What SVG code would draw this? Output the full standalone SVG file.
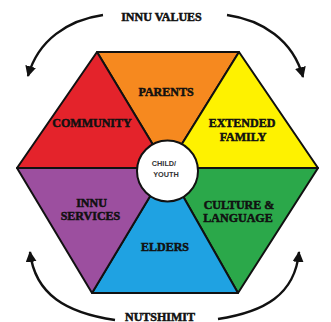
<svg xmlns="http://www.w3.org/2000/svg" width="331" height="322" viewBox="0 0 331 322">
  <style>
    .seg { stroke: #111; stroke-width: 2; stroke-linejoin: round; }
    .lbl { font-family: "Liberation Serif", "Times New Roman", serif; font-weight: bold; font-size: 12px; fill: #111; stroke: #111; stroke-width: 0.5; text-anchor: middle; }
    .hub { font-family: "Liberation Sans", Arial, sans-serif; font-weight: bold; font-size: 7.3px; fill: #333; text-anchor: middle; }
    .arc { fill: none; stroke: #111; stroke-width: 2.4; }
  </style>
  <defs>
    <marker id="head" viewBox="0 0 10 10" refX="9" refY="5" markerWidth="11" markerHeight="11" markerUnits="userSpaceOnUse" orient="auto">
      <path d="M0,0 L10,5 L0,10 Z" fill="#111"/>
    </marker>
  </defs>
  <rect width="331" height="322" fill="#ffffff"/>

  <!-- outer cycle arrows -->
  <g id="connectors">
    <path class="arc" d="M103,15 C68,20 38,40 28,76" marker-end="url(#head)"/>
    <path class="arc" d="M227,15 C262,20 293,40 303,77" marker-end="url(#head)"/>
    <path class="arc" d="M115,320 C67,313 35,295 30,252" marker-end="url(#head)"/>
    <path class="arc" d="M218,319 C264,312 295,295 299,252" marker-end="url(#head)"/>
  </g>

  <g id="innu-values">
    <text class="lbl" x="161.5" y="21">INNU VALUES</text>
  </g>
  <g id="nutshimit">
    <text class="lbl" x="160" y="320.5">NUTSHIMIT</text>
  </g>

  <!-- hexagon segments around the centre (167,168) -->
  <g id="parents">
    <polygon class="seg" points="97,52 239,52 167,168" fill="#f6891f"/>
    <text class="lbl" x="166" y="96">PARENTS</text>
  </g>
  <g id="extended-family">
    <polygon class="seg" points="239,52 318,168 167,168" fill="#fef200"/>
    <text class="lbl" x="242" y="127">EXTENDED</text>
    <text class="lbl" x="243" y="141">FAMILY</text>
  </g>
  <g id="culture-language">
    <polygon class="seg" points="318,168 238,293 167,168" fill="#2ba84a"/>
    <text class="lbl" x="239" y="209">CULTURE &amp;</text>
    <text class="lbl" x="238" y="222">LANGUAGE</text>
  </g>
  <g id="elders">
    <polygon class="seg" points="238,293 92,293 167,168" fill="#1fa2e2"/>
    <text class="lbl" x="165" y="251">ELDERS</text>
  </g>
  <g id="innu-services">
    <polygon class="seg" points="92,293 17,168 167,168" fill="#9c4f9f"/>
    <text class="lbl" x="91.5" y="207">INNU</text>
    <text class="lbl" x="90.5" y="220">SERVICES</text>
  </g>
  <g id="community">
    <polygon class="seg" points="17,168 97,52 167,168" fill="#e4232b"/>
    <text class="lbl" x="92" y="127">COMMUNITY</text>
  </g>

  <g id="child-youth">
    <circle cx="167.5" cy="171" r="30.5" fill="#ffffff" stroke="#111" stroke-width="2"/>
    <text class="hub" x="164" y="165.5">CHILD/</text>
    <text class="hub" x="166" y="176.5">YOUTH</text>
  </g>
</svg>
